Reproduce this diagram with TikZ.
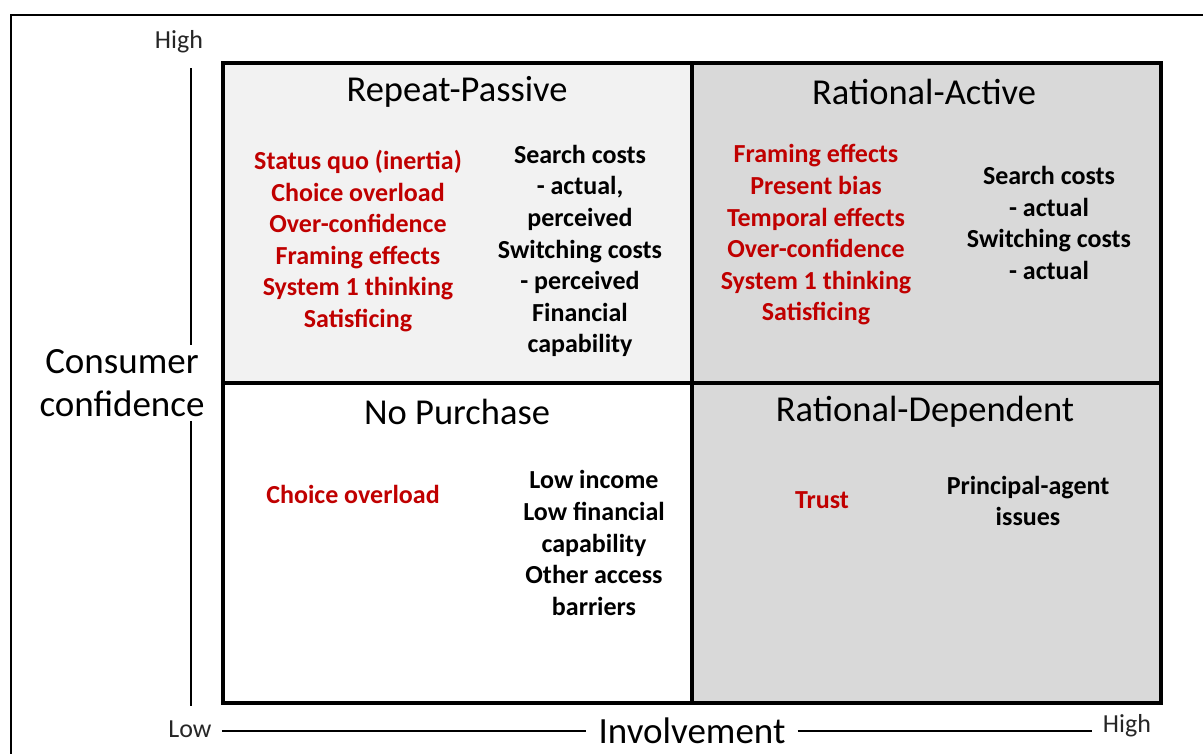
\documentclass[tikz,border=0pt]{standalone}
\usepackage{fontspec}
\setmainfont{Carlito}
\usetikzlibrary{positioning}
\definecolor{darkred}{HTML}{C00000}
\definecolor{lightgrey}{HTML}{F2F2F2}
\definecolor{midgrey}{HTML}{D9D9D9}
\tikzset{quad/.style={draw,line width=4,minimum width=469,minimum height=320,inner sep=0},
         heading/.style={font=\fontsize{36.5}{40}\selectfont},
         effect/.style={text=darkred,align=center,font=\fontsize{26}{31.6}\selectfont\bfseries},
         cost/.style={align=center,font=\fontsize{26}{31.6}\selectfont\bfseries},
         axlabel/.style={font=\fontsize{26}{30}\selectfont,text=black!85,inner sep=4},
         axtitle/.style={font=\fontsize{37}{43}\selectfont,align=center,inner sep=4},
         axis/.style={line width=1.2}}
\begin{document}
\begin{tikzpicture}[x=1pt,y=-1pt]
        \useasboundingbox (0,0) rectangle (1203,753);
        \draw[line width=1.5](11,760)--(11,15)--(1210,15);

        \node[quad, fill=lightgrey](q1)at(457,223){};
        \node[quad, fill=midgrey](q2)at(926,223){};
        \node[quad, fill=white](q3)at(457,542.5){};
        \node[quad, fill=midgrey](q4)at(926,542.5){};

        \node[heading](h1)at(457,92){Repeat-Passive};
        \node[heading](h2)at(924,92){Rational-Active};
        \node[heading](h3)at(457,412){No Purchase};
        \node[heading](h4)at(925,412){Rational-Dependent};

        \node[effect](r1)at(358,241){Status quo (inertia)\\Choice overload\\Over-confidence\\Framing effects\\System 1 thinking\\Satisficing};
        \node[cost](b1)at(580,251){Search costs\\- actual,\\perceived\\Switching costs\\- perceived\\Financial\\capability};
        \node[effect](r2)at(816,235){Framing effects\\Present bias\\Temporal effects\\Over-confidence\\System 1 thinking\\Satisficing};
        \node[cost](b2)at(1049,223){Search costs\\- actual\\Switching costs\\- actual};
        \node[effect](r3)at(353,494){Choice overload};
        \node[cost](b3)at(594,543){Low income\\Low financial\\capability\\Other access\\barriers};
        \node[effect](r4)at(822,500){Trust};
        \node[cost](b4)at(1028,501){Principal-agent\\issues};

        \node[axtitle](cc)at(122,383){Consumer\\confidence};
        \node[axtitle, inner sep=12](inv)at(692,731){Involvement};
        \node[axlabel](hy)at(179,42){High};
        \node[axlabel](lo)at(190,729){Low};
        \node[axlabel](hx)at(1127,726){High};
        \coordinate(vt)at(191,68);
        \coordinate(vb)at(191,706);

        \draw[axis](vt)--(vt|-cc.north);
        \draw[axis](vt|-cc.south)--(vb);
        \draw[axis, shorten <=6](lo.east|-inv)--(inv.west);
        \draw[axis, shorten >=7](inv.east)--(hx.west|-inv);
    \end{tikzpicture}
\end{document}
